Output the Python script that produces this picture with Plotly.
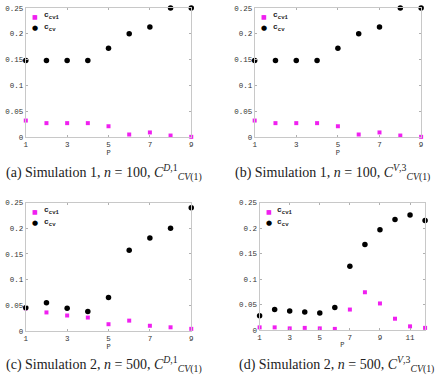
import plotly.graph_objects as go

W, H = 436, 377

p9 = [1, 2, 3, 4, 5, 6, 7, 8, 9]
p12 = [1, 2, 3, 4, 5, 6, 7, 8, 9, 10, 11, 12]

a_ccv1 = [0.032, 0.027, 0.027, 0.027, 0.021, 0.005, 0.009, 0.003, 0.0005]
a_ccv = [0.148, 0.148, 0.148, 0.148, 0.172, 0.2, 0.213, 0.25, 0.25]
b_ccv1 = [0.032, 0.027, 0.027, 0.027, 0.021, 0.005, 0.009, 0.003, 0.0005]
b_ccv = [0.148, 0.148, 0.148, 0.148, 0.172, 0.2, 0.213, 0.25, 0.25]
c_ccv1 = [0.044, 0.036, 0.030, 0.026, 0.013, 0.020, 0.010, 0.007, 0.004]
c_ccv = [0.045, 0.055, 0.044, 0.038, 0.065, 0.157, 0.181, 0.200, 0.240]
d_ccv1 = [0.005, 0.005, 0.003, 0.004, 0.003, 0.002, 0.040, 0.074, 0.052, 0.022, 0.007, 0.004]
d_ccv = [0.028, 0.040, 0.037, 0.035, 0.033, 0.044, 0.125, 0.168, 0.197, 0.217, 0.226, 0.215]

yticks = [0, 0.05, 0.1, 0.15, 0.2, 0.25]
yticktext = ["0", "0.05", "0.1", "0.15", "0.2", "0.25"]
xticks9 = [1, 3, 5, 7, 9]
xticks12 = [1, 3, 5, 7, 9, 11]

captions = [
    "(a) Simulation 1, <i>n</i> = 100, <i>C</i><sup><i>D</i>,1</sup><sub><i>CV</i>(1)</sub>",
    "(b) Simulation 1, <i>n</i> = 100, <i>C</i><sup><i>V</i>,3</sup><sub><i>CV</i>(1)</sub>",
    "(c) Simulation 2, <i>n</i> = 500, <i>C</i><sup><i>D</i>,1</sup><sub><i>CV</i>(1)</sub>",
    "(d) Simulation 2, <i>n</i> = 500, <i>C</i><sup><i>V</i>,3</sup><sub><i>CV</i>(1)</sub>",
]

MAG = "#f020f0"
MONO = "Liberation Mono"

# pixel boxes: (left, right, top, bottom)
boxes = [(24, 191, 5, 137), (255, 423, 5, 137), (24, 191, 204, 335), (260, 427, 204, 334)]
panels = [
    (p9, a_ccv1, a_ccv, xticks9, 9),
    (p9, b_ccv1, b_ccv, xticks9, 9),
    (p9, c_ccv1, c_ccv, xticks9, 9),
    (p12, d_ccv1, d_ccv, xticks12, 12),
]
cap_pos = [(103, 173), (334, 173), (103, 369), (338, 369)]

fig = go.Figure()
annotations = []
for i, ((l, r, t, b), (px, s1, s2, xt, xmax)) in enumerate(zip(boxes, panels)):
    n = "" if i == 0 else str(i + 1)
    xa, ya = "x" + n, "y" + n
    fig.add_trace(go.Scatter(x=px, y=s1, mode="markers", xaxis=xa, yaxis=ya,
                             marker=dict(symbol="square", size=4, color=MAG),
                             cliponaxis=False, showlegend=False))
    fig.add_trace(go.Scatter(x=px, y=s2, mode="markers", xaxis=xa, yaxis=ya,
                             marker=dict(symbol="circle", size=5.5, color="black"),
                             cliponaxis=False, showlegend=False))
    axcommon = dict(showline=True, linecolor="#c8c8c8", linewidth=1, mirror="ticks",
                    ticks="inside", ticklen=2, tickcolor="#b0b0b0", showgrid=False,
                    zeroline=False,
                    tickfont=dict(family=MONO, size=7.5, color="#333333"))
    fig.layout["xaxis" + n] = dict(domain=[l / W, r / W], range=[1, xmax], anchor=ya,
                                   tickvals=xt, title=dict(text="P", standoff=1,
                                   font=dict(family=MONO, size=7, color="#333333")),
                                   **axcommon)
    fig.layout["yaxis" + n] = dict(domain=[1 - b / H, 1 - t / H], range=[0, 0.25], anchor=xa,
                                   tickvals=yticks, ticktext=yticktext, **axcommon)
    # legend
    lx, ly = l + 9, t + 9
    annotations.append(dict(x=lx / W, y=1 - ly / H, xref="paper", yref="paper",
                            xanchor="center", yanchor="middle", showarrow=False,
                            text="■", font=dict(family="DejaVu Sans", size=6, color=MAG)))
    annotations.append(dict(x=lx / W, y=1 - (ly + 12) / H, xref="paper", yref="paper",
                            xanchor="center", yanchor="middle", showarrow=False,
                            text="●", font=dict(family="DejaVu Sans", size=7, color="black")))
    annotations.append(dict(x=(lx + 7) / W, y=1 - (ly - 1) / H, xref="paper", yref="paper",
                            xanchor="left", yanchor="middle", showarrow=False,
                            text="<b>c</b><sub><b>cv1</b></sub>",
                            font=dict(family=MONO, size=8, color="#222222")))
    annotations.append(dict(x=(lx + 7) / W, y=1 - (ly + 11) / H, xref="paper", yref="paper",
                            xanchor="left", yanchor="middle", showarrow=False,
                            text="<b>c</b><sub><b>cv</b></sub>",
                            font=dict(family=MONO, size=8, color="#222222")))
    cx, cy = cap_pos[i]
    annotations.append(dict(x=cx / W, y=1 - cy / H, xref="paper", yref="paper",
                            xanchor="center", yanchor="middle", showarrow=False,
                            text=captions[i],
                            font=dict(family="Liberation Serif", size=14, color="#222222")))

fig.update_layout(width=W, height=H, margin=dict(l=0, r=0, t=0, b=0),
                  paper_bgcolor="white", plot_bgcolor="white",
                  annotations=annotations, showlegend=False)
fig.write_html("out.html")
